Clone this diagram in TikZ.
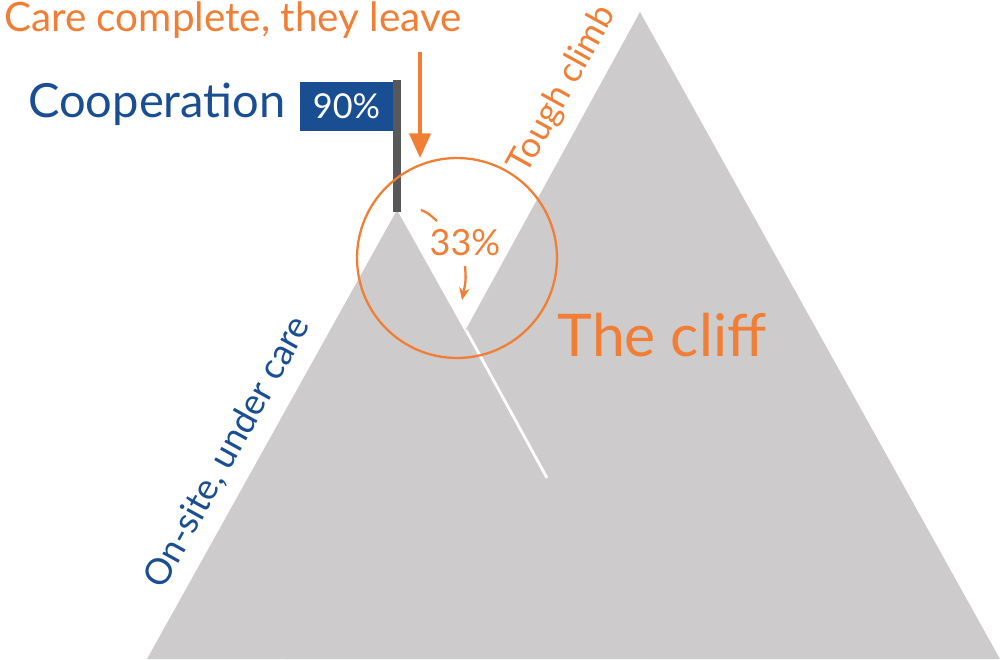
\documentclass[tikz,border=0pt]{standalone}
\usepackage{fontspec}
\setmainfont{Lato}
\usetikzlibrary{arrows.meta}
\definecolor{cliffgray}{HTML}{CDCBCC}
\definecolor{cliffblue}{HTML}{1A4E93}
\definecolor{cliffor}{HTML}{F07E34}
\definecolor{polegray}{HTML}{58585A}
\tikzset{
  orangetext/.style={text=cliffor, inner sep=0pt},
  bluetext/.style={text=cliffblue, inner sep=0pt},
  callout/.style={-{Triangle[length=14pt,width=12pt]}, cliffor, line width=2.2pt}
}
\begin{document}
\begin{tikzpicture}[x=0.02cm, y=-0.02cm]

    %--------------------%
    % Canvas
    %--------------------%
    \useasboundingbox (0,0) rectangle (1000,659);

    %--------------------%
    % Mountains
    %--------------------%
    \fill[cliffgray] (640,12) -- (1000,659) -- (285,659) -- cycle;
    \fill[cliffgray] (397,210) -- (648,659) -- (147,659) -- cycle;
    \draw[white, line width=1.6pt] (466,330) -- (547,478);

    %--------------------%
    % Flag
    %--------------------%
    \fill[polegray] (393,80) rectangle (401,212);
    \node[fill=cliffblue, text=white, minimum width=1.86cm, minimum height=0.98cm, inner sep=0pt, font=\fontsize{19.5}{23}\selectfont] (flag) at (346.5,106.5) {90\%};
    \node[bluetext, font=\fontsize{26.8}{32}\selectfont, anchor=east] (coop) at (286,104) {Cooperation};

    %--------------------%
    % Labels
    %--------------------%
    \node[orangetext, font=\fontsize{23}{27}\selectfont] (leave) at (233,20) {Care complete, they leave};
    \coordinate (leavetop) at (420,52);
    \coordinate (leavebot) at (420,158);
    \draw[callout] (leavetop) -- (leavebot);

    \node[draw=cliffor, line width=1.3pt, circle, minimum size=4cm] (ring) at (457,258) {};
    \node[orangetext, font=\fontsize{20.5}{24}\selectfont] (pct) at (465,243) {33\%};
    % arc broken by the label
    \coordinate (dropstart) at (421,210);
    \coordinate (dropmid) at (437,221);
    \coordinate (dropresume) at (465,266);
    \coordinate (dropend) at (462,300);
    \draw[cliffor, line width=1.3pt] (dropstart) .. controls (428,213) .. (dropmid);
    \draw[-{Stealth[length=7pt,width=6pt]}, cliffor, line width=1.3pt] (dropresume) .. controls (466,280) .. (dropend);

    \node[orangetext, font=\fontsize{33.5}{38}\selectfont] (cliff) at (662,335) {The cliff};
    \node[orangetext, rotate=61, font=\fontsize{20}{24}\selectfont] (climb) at (563,90) {Tough climb};
    \node[bluetext, rotate=61, font=\fontsize{20.5}{24}\selectfont] (care) at (228,452) {On-site, under care};

\end{tikzpicture}
\end{document}
